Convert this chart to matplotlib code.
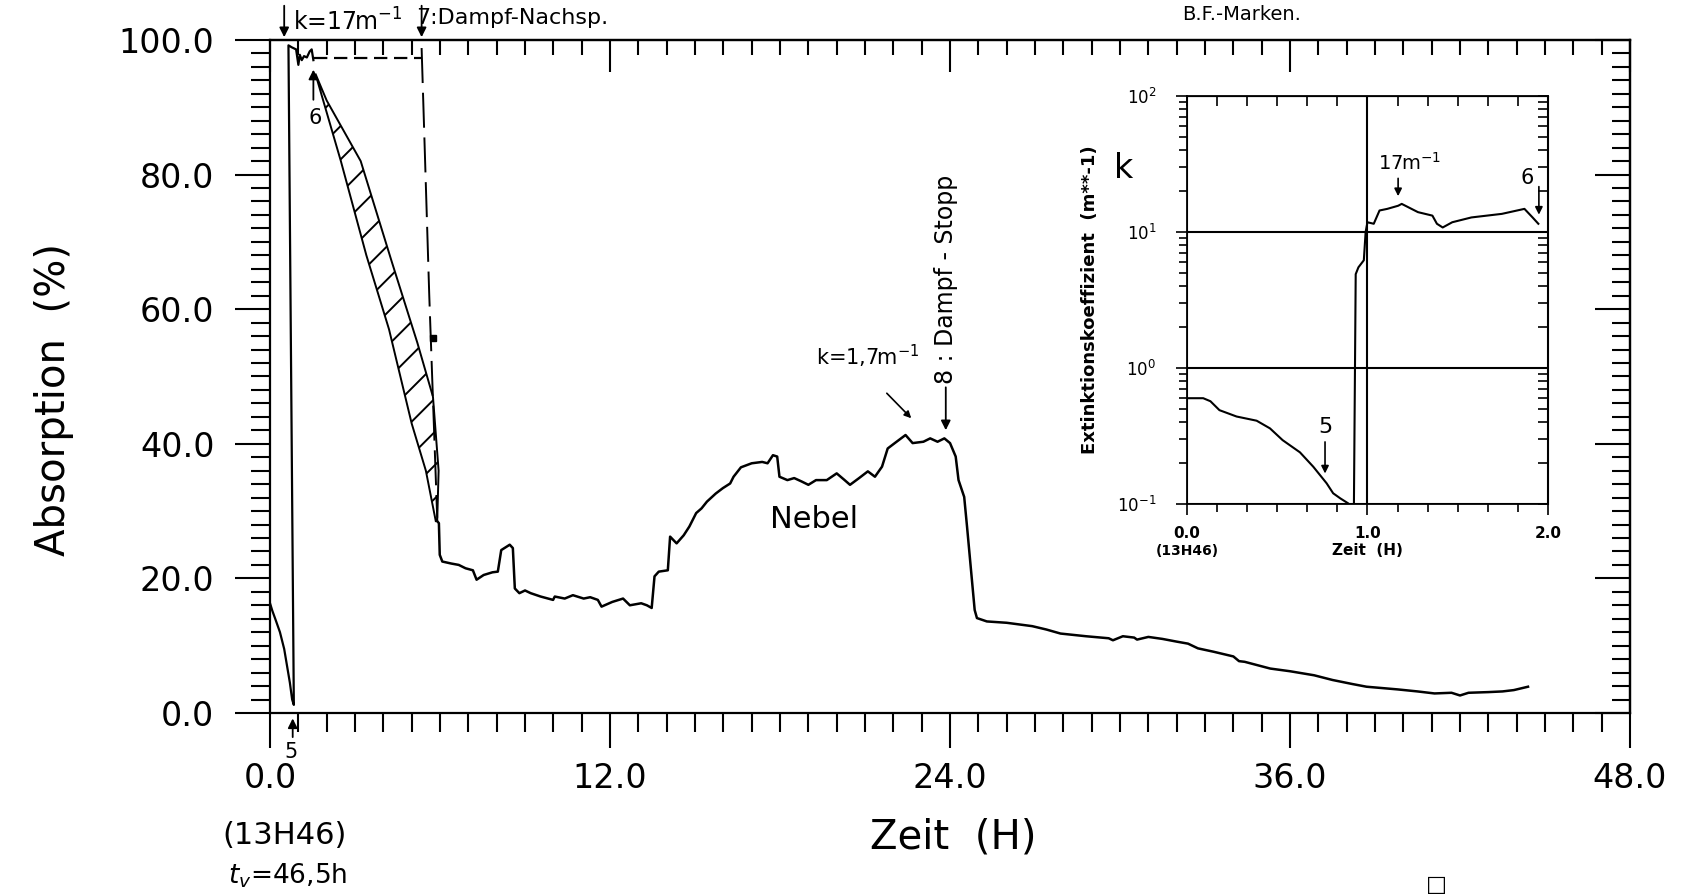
import matplotlib
matplotlib.use("Agg")
import matplotlib.pyplot as plt
from matplotlib.ticker import MultipleLocator, FormatStrFormatter, FuncFormatter, LogLocator, NullFormatter
import numpy as np

# --- main trace: absorption (%) over time (h) ---
early_h = [0.0, 0.08, 0.2, 0.35, 0.5, 0.6, 0.7, 0.78, 0.84,
           0.65, 0.77, 0.92, 1.0, 1.05, 1.12, 1.2, 1.3, 1.4, 1.47, 1.53]
early_pct = [16.3, 15.2, 13.8, 12.0, 9.5, 7.0, 4.5, 2.0, 1.2,
             99.2, 98.9, 98.6, 96.3, 97.8, 97.0, 97.6, 97.4, 98.3, 98.6, 97.0]

top_dash_h = [1.55, 5.35]
top_dash_pct = [97.3, 97.3]

nachsp_h = [5.35, 5.62, 5.9]
nachsp_pct = [98.8, 62.0, 29.0]

band_left_h = [1.6, 2.5, 3.4, 4.2, 5.0, 5.5, 5.85]
band_left_pct = [95.0, 82.0, 68.0, 57.0, 43.0, 36.0, 28.5]
band_right_h = [2.0, 3.2, 4.3, 5.2, 5.75, 5.95, 5.9]
band_right_pct = [91.0, 82.0, 67.0, 55.0, 47.0, 36.0, 28.5]

fog_h = [5.9, 5.96, 5.99, 6.08, 6.4, 6.66, 6.9, 7.16, 7.29, 7.54, 7.85, 8.04,
         8.16, 8.46, 8.57, 8.64, 8.8, 9.0, 9.2, 9.55, 9.99, 10.05, 10.4, 10.69,
         11.07, 11.3, 11.57, 11.7, 12.08, 12.46, 12.7, 13.1, 13.3, 13.47,
         13.57, 13.72, 14.04, 14.12, 14.35, 14.6, 14.8, 15.04, 15.23, 15.42,
         15.73, 15.98, 16.24, 16.36, 16.62, 17.0, 17.37, 17.56, 17.75, 17.9,
         17.98, 18.26, 18.5, 18.76, 19.0, 19.27, 19.65, 20.0, 20.28, 20.47,
         20.79, 21.1, 21.35, 21.6, 21.8, 22.05, 22.43, 22.68, 23.06, 23.3,
         23.56, 23.8, 24.0, 24.2, 24.3, 24.5, 24.6, 24.75, 24.87, 24.95,
         25.3, 26.0, 26.9, 27.4, 27.9, 28.8, 29.6, 29.75, 30.1, 30.5, 30.6,
         31.0, 31.5, 32.0, 32.4, 32.75, 33.3, 34.0, 34.2, 34.4, 35.3, 36.0,
         36.85, 37.5, 38.2, 38.7, 39.8, 40.5, 41.1, 41.7, 42.0, 42.3, 43.0,
         43.5, 43.9, 44.4]
fog_pct = [28.5, 28.2, 23.5, 22.5, 22.2, 22.0, 21.5, 21.2, 19.8, 20.5, 20.9, 21.0,
           24.2, 25.0, 24.5, 18.5, 17.8, 18.2, 17.8, 17.3, 16.8, 17.3, 17.0, 17.5,
           17.0, 17.2, 16.8, 15.8, 16.5, 17.0, 16.0, 16.3, 16.0, 15.6,
           20.3, 21.0, 21.2, 26.2, 25.2, 26.4, 27.7, 29.7, 30.4, 31.4,
           32.6, 33.4, 34.1, 35.1, 36.5, 37.1, 37.3, 37.1, 38.3, 38.1,
           35.1, 34.6, 34.9, 34.4, 33.9, 34.6, 34.6, 35.6, 34.6, 33.9,
           34.9, 35.9, 35.1, 36.6, 39.3, 40.1, 41.3, 40.1, 40.3, 40.8,
           40.3, 40.8, 40.1, 38.1, 34.6, 32.1, 27.7, 20.8, 15.3, 14.1,
           13.6, 13.4, 12.9, 12.4, 11.8, 11.4, 11.1, 10.8, 11.4, 11.2, 10.9,
           11.3, 11.0, 10.6, 10.3, 9.6, 9.1, 8.4, 7.7, 7.6, 6.6, 6.2,
           5.6, 4.9, 4.3, 3.9, 3.5, 3.2, 2.9, 3.0, 2.6, 3.0, 3.1,
           3.2, 3.4, 3.9]

# --- inset: extinction coefficient k (1/m) over the first 2 h ---
ins_h = [0.0, 0.09, 0.13, 0.18, 0.275, 0.386, 0.46, 0.53, 0.626, 0.70, 0.774,
         0.81, 0.85, 0.894, 0.91, 0.925, 0.935, 0.95, 0.98, 0.99, 1.0, 1.035,
         1.067, 1.11, 1.17, 1.19, 1.28, 1.36, 1.385, 1.417, 1.47, 1.576,
         1.745, 1.87, 1.915, 1.947]
ins_k = [0.60, 0.60, 0.57, 0.49, 0.44, 0.41, 0.36, 0.295, 0.24, 0.188, 0.142,
         0.12, 0.11, 0.101, 0.095, 0.095, 4.9, 5.5, 6.2, 10.0, 11.8, 11.5,
         14.4, 14.8, 15.6, 16.1, 14.0, 13.2, 11.5, 10.8, 11.8, 12.8,
         13.6, 14.8, 12.8, 11.5]

INK = "black"
plt.rcParams["font.family"] = ["DejaVu Sans"]
plt.rcParams["hatch.linewidth"] = 1.4

fig = plt.figure(figsize=(16.93, 8.94), dpi=100)
ax = fig.add_axes([0.1595, 0.2025, 0.8033, 0.7528])

ax.plot(early_h, early_pct, color=INK, lw=1.6)
ax.plot(top_dash_h, top_dash_pct, color=INK, lw=1.6, dashes=(6, 3))
ax.plot(nachsp_h, nachsp_pct, color=INK, lw=1.4, dashes=(18, 5))
ax.fill(band_left_h + band_right_h[::-1], band_left_pct + band_right_pct[::-1],
        facecolor="none", edgecolor=INK, hatch="/", lw=1.4)
ax.plot(fog_h, fog_pct, color=INK, lw=1.8)
ax.plot([5.76], [55.7], marker="s", ms=5, color=INK)

ax.set_xlim(0, 48)
ax.set_ylim(0, 100)
ax.xaxis.set_major_locator(MultipleLocator(12))
ax.xaxis.set_minor_locator(MultipleLocator(1))
ax.yaxis.set_major_locator(MultipleLocator(20))
ax.yaxis.set_minor_locator(MultipleLocator(2))
ax.xaxis.set_major_formatter(FormatStrFormatter("%.1f"))
ax.yaxis.set_major_formatter(FormatStrFormatter("%.1f"))
ax.tick_params(which="both", direction="out", width=1.5, top=False, right=False,
               labelsize=24)
ax.tick_params(which="major", length=25)
ax.tick_params(which="minor", length=14)
ax.tick_params(axis="x", pad=10)
ax.tick_params(axis="y", pad=15)
for sp in ax.spines.values():
    sp.set_linewidth(1.6)

top = ax.secondary_xaxis("top")
top.xaxis.set_major_locator(MultipleLocator(12))
top.xaxis.set_minor_locator(MultipleLocator(1))
top.tick_params(which="both", direction="in", width=1.5, labeltop=False)
top.tick_params(which="major", length=23)
top.tick_params(which="minor", length=11)
top.spines["top"].set_linewidth(1.6)

right = ax.secondary_yaxis("right")
right.yaxis.set_major_locator(MultipleLocator(20))
right.yaxis.set_minor_locator(MultipleLocator(2))
right.tick_params(which="both", direction="in", width=1.5, labelright=False)
right.tick_params(which="major", length=25)
right.tick_params(which="minor", length=13)
right.spines["right"].set_linewidth(1.6)

fig.text(54 / 1693, 1 - 400 / 894, "Absorption  (%)", rotation=90, fontsize=29,
         ha="center", va="center")
fig.text(953 / 1693, 1 - 837 / 894, "Zeit  (H)", fontsize=29, ha="center", va="center")
fig.text(285 / 1693, 1 - 835 / 894, "(13H46)", fontsize=22, ha="center", va="center")
fig.text(288 / 1693, 1 - 876 / 894, "$t_v$=46,5h", fontsize=19, ha="center", va="center")
fig.text(1436 / 1693, 1 - 885 / 894, "\u25a1", fontsize=16, ha="center", va="center")

arrow = dict(arrowstyle="-|>", color=INK, lw=1.3, mutation_scale=14)
ax.annotate("", xy=(0.5, 100), xytext=(0.5, 105.5), arrowprops=arrow, annotation_clip=False)
ax.text(0.8, 102.6, "k=17m$^{-1}$", fontsize=17, va="center", clip_on=False)
ax.annotate("", xy=(5.35, 100), xytext=(5.35, 105.5), arrowprops=arrow, annotation_clip=False)
ax.text(5.15, 103.3, "7:Dampf-Nachsp.", fontsize=16, va="center", clip_on=False)
ax.text(32.2, 103.8, "B.F.-Marken.", fontsize=14, va="center", clip_on=False)
ax.annotate("", xy=(1.53, 96.0), xytext=(1.53, 90.7), arrowprops=arrow)
ax.text(1.6, 88.4, "6", fontsize=15, ha="center", va="center")
ax.annotate("", xy=(0.8, -0.4), xytext=(0.8, -4.0), arrowprops=arrow, annotation_clip=False)
ax.text(0.75, -5.8, "5", fontsize=15, ha="center", va="center", clip_on=False)
ax.text(19.2, 28.7, "Nebel", fontsize=22, ha="center", va="center")
ax.text(21.1, 53.0, "k=1,7m$^{-1}$", fontsize=15, ha="center", va="center")
ax.annotate("", xy=(22.7, 43.5), xytext=(21.7, 47.8),
            arrowprops=dict(arrowstyle="-|>", color=INK, lw=1.2, mutation_scale=10))
ax.annotate("", xy=(23.85, 41.6), xytext=(23.85, 48.8), arrowprops=arrow)
ax.text(23.85, 64.5, "8 : Dampf - Stopp", fontsize=17, rotation=90,
        ha="center", va="center")

# --- inset ---
axi = fig.add_axes([0.7011, 0.4362, 0.2132, 0.4564])
axi.plot(ins_h, ins_k, color=INK, lw=1.5)
axi.set_yscale("log")
axi.set_xlim(0, 2)
axi.set_ylim(0.1, 100)
axi.xaxis.set_major_locator(MultipleLocator(1))
axi.xaxis.set_minor_locator(MultipleLocator(1 / 6))
axi.xaxis.set_major_formatter(FormatStrFormatter("%.1f"))
axi.yaxis.set_major_locator(LogLocator(base=10))
axi.yaxis.set_minor_locator(LogLocator(base=10, subs=np.arange(2, 10)))
axi.yaxis.set_minor_formatter(NullFormatter())
axi.yaxis.set_major_formatter(FuncFormatter(lambda v, p: "10$^{%d}$" % round(np.log10(v))))
axi.grid(True, which="major", color=INK, lw=1.5)
axi.tick_params(which="both", direction="out", width=1.2, top=False, right=False)
axi.tick_params(which="major", length=8)
axi.tick_params(which="minor", length=6)
axi.tick_params(axis="x", labelsize=11, pad=8)
axi.tick_params(axis="y", labelsize=12, pad=14)
for lab in axi.get_xticklabels():
    lab.set_fontweight("bold")
for sp in axi.spines.values():
    sp.set_linewidth(1.3)

itop = axi.secondary_xaxis("top")
itop.xaxis.set_major_locator(MultipleLocator(1))
itop.xaxis.set_minor_locator(MultipleLocator(1 / 6))
itop.tick_params(which="both", direction="in", length=7, width=1.2, labeltop=False)
iright = axi.secondary_yaxis("right")
iright.set_yscale("log")
iright.yaxis.set_major_locator(LogLocator(base=10))
iright.yaxis.set_minor_locator(LogLocator(base=10, subs=np.arange(2, 10)))
iright.tick_params(which="both", direction="in", length=7, width=1.2, labelright=False)

axi.text(0.0, -0.115, "(13H46)", transform=axi.transAxes, fontsize=10,
         fontweight="bold", ha="center", va="center")
axi.text(0.5, -0.115, "Zeit  (H)", transform=axi.transAxes, fontsize=11,
         fontweight="bold", ha="center", va="center")
fig.text(1090 / 1693, 1 - 300 / 894, "Extinktionskoeffizient  (m**-1)", rotation=90,
         fontsize=13, fontweight="bold", ha="center", va="center")
fig.text(1124 / 1693, 1 - 168 / 894, "k", fontsize=24, ha="center", va="center")

iarrow = dict(arrowstyle="-|>", color=INK, lw=1.2, mutation_scale=11)
axi.text(1.235, 32.5, "17m$^{-1}$", fontsize=14, ha="center", va="center")
axi.annotate("", xy=(1.17, 17.5), xytext=(1.17, 26), arrowprops=iarrow)
axi.text(0.765, 0.37, "5", fontsize=16, ha="center", va="center")
axi.annotate("", xy=(0.765, 0.16), xytext=(0.765, 0.30), arrowprops=iarrow)
axi.text(1.885, 25, "6", fontsize=15, ha="center", va="center")
axi.annotate("", xy=(1.95, 12.8), xytext=(1.95, 22.6), arrowprops=iarrow)

fig.savefig("out.png", dpi=100)
